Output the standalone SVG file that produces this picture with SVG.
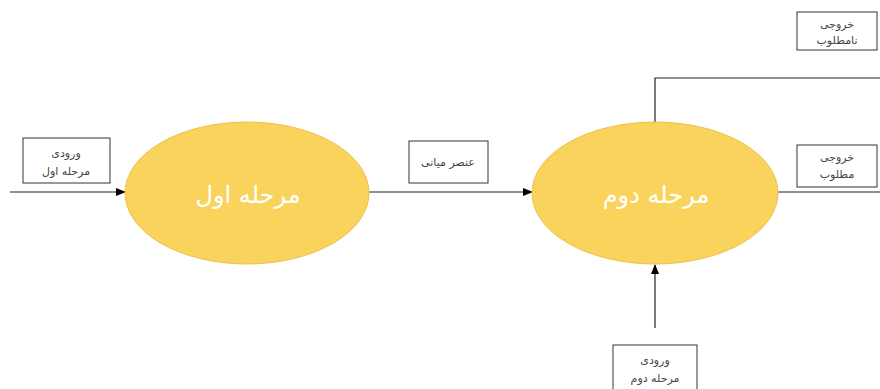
<svg xmlns="http://www.w3.org/2000/svg" width="880" height="389" viewBox="0 0 880 389">
<defs>
<marker id="ah" markerWidth="10" markerHeight="8" refX="9" refY="4" orient="auto" markerUnits="userSpaceOnUse">
<path d="M0,0 L10,4 L0,8 z" fill="#000"/>
</marker>
<style>
.box{fill:#fff;stroke:#333;stroke-width:1}
.lbl{font-family:"DejaVu Sans",sans-serif;font-size:11px;fill:#444;text-anchor:middle;direction:rtl}
.ell{fill:#F9D35C;stroke:#EBC24D;stroke-width:1}
.big{font-family:"DejaVu Sans",sans-serif;font-size:24px;fill:#fff;text-anchor:middle;direction:rtl}
.ln{stroke:#222;stroke-width:1.2;fill:none}
</style>
</defs>
<rect width="880" height="389" fill="#fff"/>
<g id="connectors">
<line class="ln" x1="10" y1="192" x2="125" y2="192" marker-end="url(#ah)"/>
<line class="ln" x1="369" y1="192" x2="532" y2="192" marker-end="url(#ah)"/>
<line class="ln" x1="778" y1="192" x2="880" y2="192"/>
<polyline class="ln" points="655,122 655,78 880,78"/>
<line class="ln" x1="655" y1="328" x2="655" y2="265" marker-end="url(#ah)"/>
</g>
<g id="stage1">
<ellipse class="ell" cx="247" cy="193" rx="122" ry="71"/>
<text class="big" x="248" y="203">مرحله اول</text>
</g>
<g id="stage2">
<ellipse class="ell" cx="655" cy="193" rx="123" ry="71"/>
<text class="big" x="656" y="203">مرحله دوم</text>
</g>
<g id="input1">
<rect class="box" x="23" y="138" width="87" height="45"/>
<text class="lbl" x="66" y="157">ورودی</text>
<text class="lbl" x="66" y="175">مرحله اول</text>
</g>
<g id="intermediate">
<rect class="box" x="409" y="141" width="79" height="42"/>
<text class="lbl" x="448" y="166">عنصر میانی</text>
</g>
<g id="undesired">
<rect class="box" x="797" y="12" width="80" height="38"/>
<text class="lbl" x="837" y="28">خروجی</text>
<text class="lbl" x="837" y="44">نامطلوب</text>
</g>
<g id="desired">
<rect class="box" x="797" y="145" width="80" height="42"/>
<text class="lbl" x="837" y="161">خروجی</text>
<text class="lbl" x="837" y="178">مطلوب</text>
</g>
<g id="input2">
<rect class="box" x="613" y="345" width="84" height="50"/>
<text class="lbl" x="655" y="364">ورودی</text>
<text class="lbl" x="655" y="382">مرحله دوم</text>
</g>
</svg>
